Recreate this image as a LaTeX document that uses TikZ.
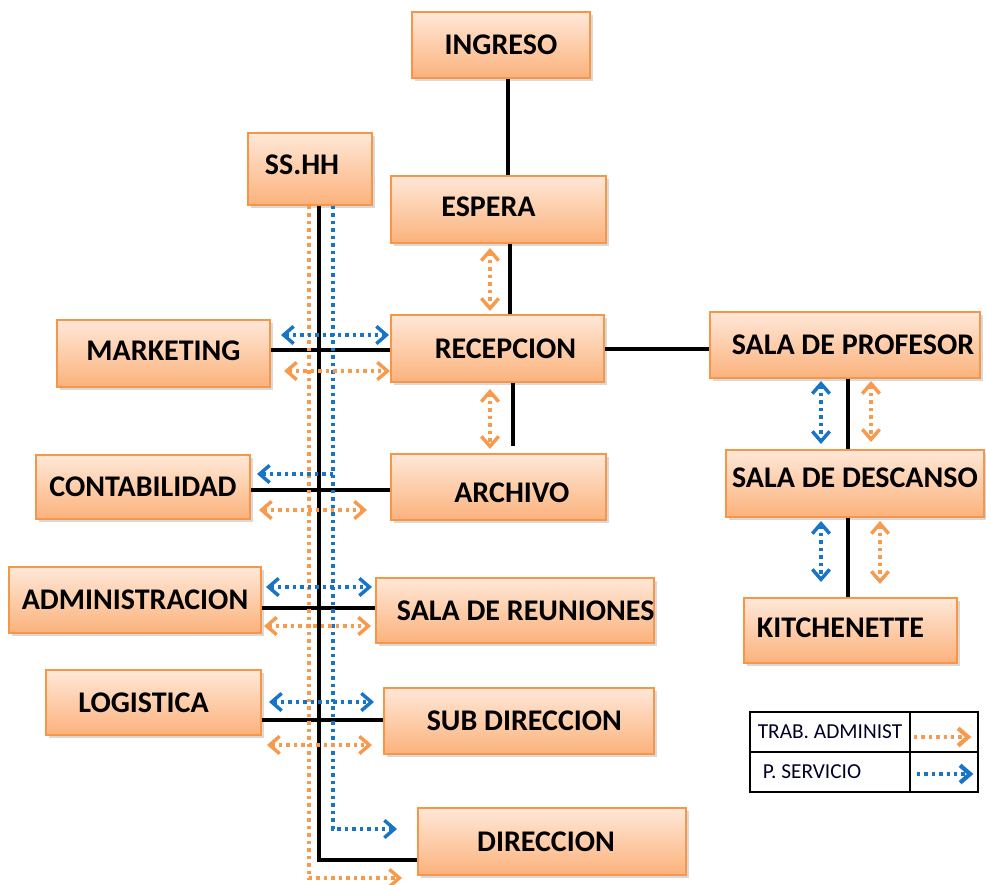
\documentclass[tikz,border=0pt]{standalone}
\usepackage{fontspec}
\setmainfont{Carlito}
\usetikzlibrary{arrows.meta,shadows,fit,calc}
\definecolor{boxline}{HTML}{F79646}
\definecolor{boxtop}{HTML}{FFE8D8}
\definecolor{boxbot}{HTML}{FBB27C}
\definecolor{oarrow}{HTML}{F79A4E}
\definecolor{barrow}{HTML}{1874C4}
\tikzset{
  room/.style={draw=boxline, line width=1.5pt, top color=boxtop, bottom color=boxbot,
    inner sep=0pt, drop shadow={shadow xshift=2pt, shadow yshift=-2pt, opacity=0.3}},
  rtext/.style={font=\bfseries\fontsize{22.5}{24}\selectfont, text=black},
  legcell/.style={draw=black, line width=2pt, inner sep=0pt},
  legtext/.style={font=\fontsize{16}{18}\selectfont, text=black!85!blue},
  wire/.style={line width=2.6pt, black},
  chev/.tip={Straight Barb[length=7.5pt,width=13pt]},
  dotline/.style={line width=2.6pt, dash pattern=on 2.6pt off 3pt},
  oarr/.style={dotline, draw=oarrow},
  barr/.style={dotline, draw=barrow},
}
\begin{document}
\begin{tikzpicture}[x=0.75pt,y=-0.75pt]
\useasboundingbox (0,0) rectangle (986,885);

% rooms
\node[room, fit={(412,12)(590,78)}, label={[rtext]center:INGRESO}] (ing) {};
\node[room, fit={(248,133)(372,205)}, label={[rtext,xshift=-6pt,yshift=3pt]center:SS.HH}] (ss) {};
\node[room, fit={(391,176)(606,243)}, label={[rtext,xshift=-7.5pt,yshift=2pt]center:ESPERA}] (esp) {};
\node[room, fit={(57,320)(270,387)}, label={[rtext,yshift=2pt]center:MARKETING}] (mkt) {};
\node[room, fit={(391,315)(604,382)}, label={[rtext,xshift=6pt]center:RECEPCION}] (rec) {};
\node[room, fit={(710,312)(980,378)}, label={[rtext,xshift=6pt]center:SALA DE PROFESOR}] (prof) {};
\node[room, fit={(36,455)(250,519)}, label={[rtext]center:CONTABILIDAD}] (cont) {};
\node[room, fit={(391,454)(606,520)}, label={[rtext,xshift=10pt,yshift=-4pt]center:ARCHIVO}] (arch) {};
\node[room, fit={(726,450)(984,517)}, label={[rtext,yshift=4pt]center:SALA DE DESCANSO}] (desc) {};
\node[room, fit={(9,567)(261,633)}, label={[rtext]center:ADMINISTRACION}] (adm) {};
\node[room, fit={(376,578)(654,643)}, label={[rtext,xshift=8pt]center:SALA DE REUNIONES}] (reu) {};
\node[room, fit={(744,598)(957,663)}, label={[rtext,xshift=-7.5pt,yshift=2pt]center:KITCHENETTE}] (kit) {};
\node[room, fit={(46,670)(261,735)}, label={[rtext,xshift=-7.5pt]center:LOGISTICA}] (log) {};
\node[room, fit={(384,688)(654,754)}, label={[rtext,xshift=4pt]center:SUB DIRECCION}] (sub) {};
\node[room, fit={(418,808)(686,875)}, label={[rtext,xshift=-4.5pt]center:DIRECCION}] (dir) {};

% reference coordinates
\coordinate (xA) at (508,0);
\coordinate (xB) at (510,0);
\coordinate (xC) at (513,0);
\coordinate (xD) at (490,0);
\coordinate (xP) at (848,0);
\coordinate (xPb) at (821,0);
\coordinate (xPo) at (871,0);
\coordinate (xKo) at (880,0);
\coordinate (xT) at (319,0);
\coordinate (xTo) at (309,0);
\coordinate (xTb) at (333,0);
\coordinate (y349) at (0,349);
\coordinate (y350) at (0,350);
\coordinate (y490) at (0,490);
\coordinate (y608) at (0,608);
\coordinate (y720) at (0,720);
\coordinate (y860) at (0,860);
\coordinate (y335) at (0,335);
\coordinate (y371) at (0,371);
\coordinate (y474) at (0,474);
\coordinate (y510) at (0,510);
\coordinate (y587) at (0,587);
\coordinate (y626) at (0,626);
\coordinate (y702) at (0,702);
\coordinate (y745) at (0,745);
\coordinate (oEnd) at (402,878);
\coordinate (bEnd) at (397,829);

% black connections
\draw[wire] (ing.south -| xA) -- (esp.north -| xA);
\draw[wire] (esp.south -| xB) -- (rec.north -| xB);
\draw[wire, shorten >=5pt] (rec.south -| xC) -- (arch.north -| xC);
\draw[wire] (rec.east |- y349) -- (prof.west |- y349);
\draw[wire] (prof.south -| xP) -- (desc.north -| xP);
\draw[wire] (desc.south -| xP) -- (kit.north -| xP);
\draw[wire] (mkt.east |- y350) -- (rec.west |- y350);
\draw[wire] (cont.east |- y490) -- (arch.west |- y490);
\draw[wire] (adm.east |- y608) -- (reu.west |- y608);
\draw[wire] (log.east |- y720) -- (sub.west |- y720);
\draw[wire] (ss.south -| xT) |- (dir.west |- y860);

% trunk dotted lines
\draw[oarr, -chev] (ss.south -| xTo) |- (oEnd);
\draw[barr, -chev] (ss.south -| xTb) |- (bEnd);

% horizontal dotted arrows
\draw[barr, chev-chev, shorten <=7.5pt, shorten >=0.75pt] (mkt.east |- y335) -- (rec.west |- y335);
\draw[oarr, chev-chev, shorten <=9.75pt] (mkt.east |- y371) -- (rec.west |- y371);
\draw[barr, -chev, shorten >=4.5pt] (xTb |- y474) -- (cont.east |- y474);
\draw[oarr, chev-chev, shorten <=6pt, shorten >=17.25pt] (cont.east |- y510) -- (arch.west |- y510);
\draw[barr, chev-chev, shorten <=3pt, shorten >=2.25pt] (adm.east |- y587) -- (reu.west |- y587);
\draw[oarr, chev-chev, shorten <=1.5pt, shorten >=3pt] (adm.east |- y626) -- (reu.west |- y626);
\draw[barr, chev-chev, shorten <=5.25pt, shorten >=6.75pt] (log.east |- y702) -- (sub.west |- y702);
\draw[oarr, chev-chev, shorten <=3.75pt, shorten >=8.25pt] (log.east |- y745) -- (sub.west |- y745);

% vertical dotted arrows
\draw[oarr, chev-chev, shorten <=3pt, shorten >=2.25pt] (esp.south -| xD) -- (rec.north -| xD);
\draw[oarr, chev-chev, shorten <=4.5pt, shorten >=3pt] (rec.south -| xD) -- (arch.north -| xD);
\draw[barr, chev-chev, shorten <=1.5pt, shorten >=3.75pt] (prof.south -| xPb) -- (desc.north -| xPb);
\draw[oarr, chev-chev, shorten <=1.5pt, shorten >=5.25pt] (prof.south -| xPo) -- (desc.north -| xPo);
\draw[barr, chev-chev, shorten <=2.25pt, shorten >=11.25pt] (desc.south -| xPb) -- (kit.north -| xPb);
\draw[oarr, chev-chev, shorten <=2.25pt, shorten >=9.75pt] (desc.south -| xKo) -- (kit.north -| xKo);

% legend
\node[legcell, fit={(750,712)(910,752)}, label={[legtext]center:TRAB. ADMINIST}] (l1) {};
\node[legcell, fit={(910,712)(978,752)}] (l2) {};
\node[legcell, fit={(750,752)(910,792)}, label={[legtext,xshift=-13.5pt]center:P. SERVICIO}] (l3) {};
\node[legcell, fit={(910,752)(978,792)}] (l4) {};
\draw[oarr, line width=3.2pt, -chev, shorten <=3.75pt, shorten >=6pt] ([yshift=-3.75pt]l2.west) -- ([yshift=-3.75pt]l2.east);
\draw[barr, line width=3.2pt, -chev, shorten <=6pt, shorten >=4.5pt] ([yshift=-1.5pt]l4.west) -- ([yshift=-1.5pt]l4.east);
\end{tikzpicture}
\end{document}
